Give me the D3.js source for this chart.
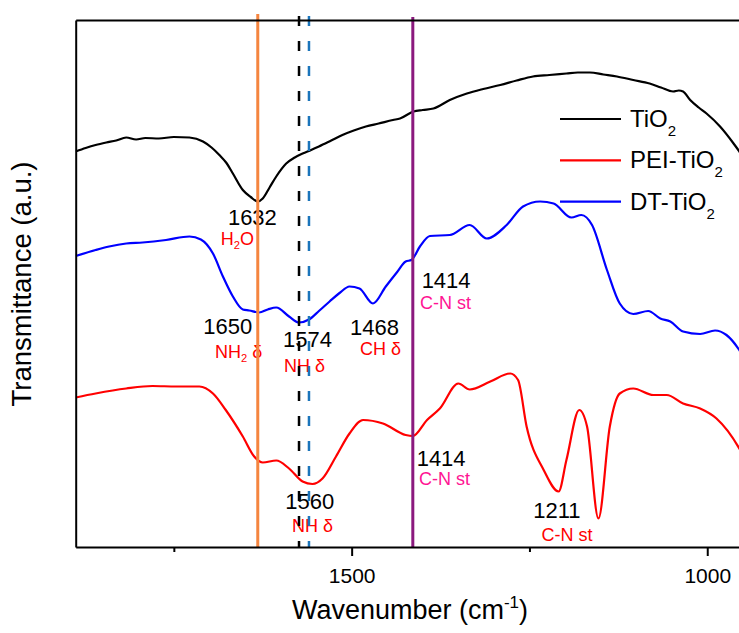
<!DOCTYPE html>
<html>
<head>
<meta charset="utf-8">
<script src="https://cdn.jsdelivr.net/npm/d3@7"></script>
<style>
  body { margin: 0; background: #fff; }
  svg { display: block; }
  text { font-family: "Liberation Sans", Arial, Helvetica, sans-serif; }
</style>
</head>
<body>
<svg id="chart" width="739" height="633"></svg>
<script>
// ---- FTIR spectra (wavenumber in cm-1, transmittance in a.u.) ----
const tio2Wn = [1888,1874,1860,1845,1831,1817,1803,1790,1771,1750,1728,1709,1697,1686,1676,1667,1653,1642,1632,1625,1615,1606,1592,1580,1569,1557,1546,1530,1513,1497,1480,1462,1442,1432,1413,1400,1385,1362,1338,1315,1291,1268,1245,1222,1198,1182,1165,1146,1127,1104,1081,1065,1048,1040,1034,1024,1012,1001,982,963,955,945];
const tio2T  = [79.1,79.8,80.4,80.9,81.3,81.9,81.5,81.8,81.7,82.0,81.9,81.1,79.9,78.4,76.8,74.7,71.4,70.0,69.1,69.7,72.0,74.1,76.7,77.9,78.7,79.4,80.1,81.2,82.4,83.3,84.1,84.7,85.4,85.7,87.1,87.4,87.7,89.4,90.7,91.6,92.4,93.3,94.1,94.4,94.7,94.9,94.9,94.5,94.1,93.4,92.7,91.9,91.1,91.3,91.1,89.4,87.9,86.7,84.1,80.7,79.1,76.5];

const peiWn = [1888,1860,1817,1780,1747,1714,1695,1677,1653,1637,1625,1606,1588,1569,1555,1541,1522,1503,1484,1456,1424,1414,1394,1376,1350,1334,1305,1277,1266,1254,1230,1209,1198,1180,1169,1153,1137,1123,1104,1076,1057,1034,1010,987,955,945];
const peiT  = [29.9,30.7,31.7,32.2,32.1,32.1,30.7,27.4,22.1,18.1,16.9,17.3,15.7,13.1,12.6,13.7,18.1,22.7,25.4,24.7,22.4,22.2,25.4,27.7,32.7,31.5,33.1,34.7,33.4,24.1,15.4,11.1,17.4,27.4,24.1,5.7,24.1,30.7,31.7,30.4,30.4,28.7,27.7,25.7,19.7,17.0];

const dtWn = [1888,1860,1841,1817,1794,1761,1728,1712,1695,1681,1667,1653,1644,1630,1618,1606,1588,1574,1560,1546,1531,1517,1503,1489,1470,1452,1436,1424,1416,1404,1390,1362,1334,1310,1282,1259,1235,1216,1191,1177,1162,1141,1123,1104,1083,1066,1052,1034,1010,989,973,955,945];
const dtT  = [58.2,59.4,60.1,60.7,60.9,61.4,62.1,61.5,58.7,54.1,50.1,47.5,47.3,46.9,47.5,47.9,46.1,44.9,45.5,47.2,49.1,50.8,52.1,51.7,48.7,52.1,55.0,57.1,57.4,60.1,62.2,62.4,64.4,61.7,64.4,68.1,69.1,68.7,65.9,66.4,64.4,55.4,48.7,46.6,47.2,45.7,45.1,43.1,42.6,43.3,42.4,39.4,37.0];

const seriesNames = ["TiO2", "PEI-TiO2", "DT-TiO2"];
const xTicks = [1750, 1500, 1250, 1000];
const xLabelTicks = [1500, 1000];

// marked bands (cm-1)
const bandSolid = [1632, 1414];
const bandDashed = [1574, 1560];

// peak annotations: wavenumber text and assignment
const peakNums  = ["1632", "1650", "1574", "1468", "1414", "1414", "1560", "1211"];
const peakNotes = ["H\u2082O", "NH\u2082 \u03b4", "NH \u03b4", "CH \u03b4", "C-N st", "C-N st", "NH \u03b4", "C-N st"];

// ---- layout ----
const svg = d3.select("#chart");
const pLeft = 75.7, pTop = 20, pBottom = 547;
const x = d3.scaleLinear().domain([1888, 940]).range([pLeft, pLeft + 948 * 0.7112]);
const y = d3.scaleLinear().domain([0, 105.4]).range([pBottom, pTop]);
const pRight = x.range()[1];

svg.append("defs").append("clipPath").attr("id", "plotClip")
  .append("rect").attr("x", pLeft).attr("y", pTop).attr("width", pRight - pLeft).attr("height", pBottom - pTop);

const colors = { "TiO2": "#000000", "PEI-TiO2": "#ff0000", "DT-TiO2": "#0000ff" };
const series = [
  { name: "TiO2", wn: tio2Wn, t: tio2T },
  { name: "PEI-TiO2", wn: peiWn, t: peiT },
  { name: "DT-TiO2", wn: dtWn, t: dtT }
];

const line = d3.line()
  .x(d => x(d[0]))
  .y(d => y(d[1]))
  .curve(d3.curveMonotoneX);

const plot = svg.append("g").attr("clip-path", "url(#plotClip)");
series.forEach(s => {
  plot.append("path")
    .datum(s.wn.map((w, i) => [w, s.t[i]]))
    .attr("fill", "none")
    .attr("stroke", colors[s.name])
    .attr("stroke-width", 2.2)
    .attr("stroke-linejoin", "round")
    .attr("d", line);
});

// ---- annotations ----
const numColor = "#000", red = "#ff0000", pink = "#ff1493";
function note(g, str, xw, yv, size, color) {
  // subscript digits (₂) are drawn as lowered small text
  const t = g.append("text").attr("x", x(xw)).attr("y", y(yv))
    .attr("font-size", size).attr("fill", color);
  const parts = str.split(/(\u2082)/);
  let lowered = false;
  parts.forEach(p => {
    if (p === "\u2082") {
      t.append("tspan").attr("font-size", size * 0.62).attr("dy", 4).text("2");
      lowered = true;
    } else if (p.length) {
      const ts = t.append("tspan").text(p);
      if (lowered) { ts.attr("dy", -4); lowered = false; }
    }
  });
  return t;
}
const ann = svg.append("g");
// placement of each label (wavenumber of its left edge, baseline level)
const numPos  = [[1674, 64.4], [1708.7, 42.6], [1596.6, 40.0], [1502.4, 42.4], [1401.6, 51.8], [1408.6, 16.2], [1593.4, 7.7], [1244.7, 5.8]];
const notePos = [[1684, 60.4], [1692, 37.8], [1595, 35.0], [1488.3, 38.4], [1404, 47.6], [1405.4, 12.4], [1584, 3.1], [1232.9, 1.3]];
const noteColors = [red, red, red, red, pink, pink, red, red];
peakNums.forEach((n, i) => note(ann, n, numPos[i][0], numPos[i][1], 22, numColor));
peakNotes.forEach((n, i) => note(ann, n, notePos[i][0], notePos[i][1], 18, noteColors[i]));

// ---- band markers ----
const bands = svg.append("g");
bands.selectAll("line.solid").data(bandSolid).join("line")
  .attr("class", "solid")
  .attr("x1", d => x(d)).attr("x2", d => x(d))
  .attr("y1", (d, i) => pTop - (i === 0 ? 6 : 3)).attr("y2", pBottom)
  .attr("stroke", (d, i) => i === 0 ? "#f5853f" : "#8b1a7e")
  .attr("stroke-width", 3);
bands.selectAll("line.dash").data(bandDashed).join("line")
  .attr("class", "dash")
  .attr("x1", d => x(d)).attr("x2", d => x(d))
  .attr("y1", pTop - 4).attr("y2", pBottom)
  .attr("stroke", (d, i) => i === 0 ? "#000000" : "#1b75bb")
  .attr("stroke-width", 2.5)
  .attr("stroke-dasharray", "10,15");

// ---- axes / frame ----
const axB = svg.append("g").attr("transform", `translate(0,${pBottom})`)
  .call(d3.axisBottom(x).tickValues(xTicks).tickSize(9).tickSizeOuter(0)
    .tickFormat(d => xLabelTicks.includes(d) ? d : ""));
axB.selectAll(".tick line").attr("stroke-width", 2)
  .attr("y2", d => xLabelTicks.includes(d) ? 9 : 5);
axB.selectAll(".tick text").attr("y", 36).attr("dy", 0)
  .attr("font-size", 21).attr("fill", "#000")
  .attr("font-family", "Liberation Sans, Arial, sans-serif");
axB.select(".domain").attr("stroke-width", 2);

const axT = svg.append("g").attr("transform", `translate(0,${pTop})`)
  .call(d3.axisTop(x).tickValues([]).tickSizeOuter(0));
axT.select(".domain").attr("stroke-width", 2);
const axL = svg.append("g").attr("transform", `translate(${pLeft},0)`)
  .call(d3.axisLeft(y).tickValues([]).tickSizeOuter(0));
axL.select(".domain").attr("stroke-width", 2);
const axR = svg.append("g").attr("transform", `translate(${pRight},0)`)
  .call(d3.axisRight(y).tickValues([]).tickSizeOuter(0));
axR.select(".domain").attr("stroke-width", 2);

// axis titles
const xt = svg.append("text").attr("x", 410).attr("y", 619)
  .attr("text-anchor", "middle").attr("font-size", 27).attr("fill", "#000");
xt.append("tspan").text("Wavenumber (cm");
xt.append("tspan").attr("font-size", 17).attr("dy", -11).text("-1");
xt.append("tspan").attr("dy", 11).text(")");

svg.append("text").attr("transform", "translate(31,284) rotate(-90)")
  .attr("text-anchor", "middle").attr("font-size", 27.5).attr("fill", "#000")
  .text("Transmittance (a.u.)");

// ---- legend ----
const leg = svg.append("g");
seriesNames.forEach((name, i) => {
  const ly = 119 + i * 41.3;
  leg.append("line").attr("x1", 560).attr("x2", 621).attr("y1", ly).attr("y2", ly)
    .attr("stroke", colors[name]).attr("stroke-width", 2.2);
  const t = leg.append("text").attr("x", 630).attr("y", ly + 8)
    .attr("font-size", 24).attr("fill", "#000");
  t.append("tspan").text(name.slice(0, -1));
  t.append("tspan").attr("font-size", 15).attr("dy", 9).text(name.slice(-1));
});
</script>
</body>
</html>
